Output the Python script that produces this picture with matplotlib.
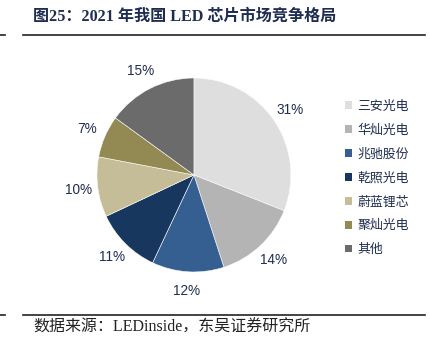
import matplotlib
matplotlib.use("Agg")
import matplotlib.pyplot as plt
from matplotlib.lines import Line2D
from matplotlib.patches import Patch

companies = ["三安光电", "华灿光电", "兆驰股份", "乾照光电", "蔚蓝锂芯", "聚灿光电", "其他"]
shares = [31, 14, 12, 11, 10, 7, 15]
colors = ["#DEDEDE", "#B4B4B4", "#365F91", "#17375E", "#C4BD97", "#938953", "#6B6B6B"]

title = "图25：2021 年我国 LED 芯片市场竞争格局"
source = "数据来源：LEDinside，东吴证券研究所"

navy = "#1F2D4F"
cjk_sans = ["Liberation Sans", "Noto Sans CJK SC"]
cjk_serif = ["Liberation Serif", "Noto Sans CJK SC"]

fig = plt.figure(figsize=(4.3, 3.5), dpi=100)

# pie
ax = fig.add_axes([0.451 - 0.2256, 0.5 - 0.2771, 0.4512, 0.5543])
wedges, texts, autotexts = ax.pie(
    shares, colors=colors, startangle=90, counterclock=False,
    autopct="%d%%", pctdistance=1.2,
    wedgeprops=dict(linewidth=0.4, edgecolor="white"),
    textprops=dict(color=navy, fontsize=9.8, family="Liberation Sans"))
ax.set_xlim(-1, 1)
ax.set_ylim(-1, 1)
ax.set_aspect("equal")

# legend
handles = [Patch(facecolor=c, edgecolor="none") for c in colors]
fig.legend(handles, companies, loc="upper left", bbox_to_anchor=(0.775, 0.745),
           frameon=False, prop=dict(family=cjk_sans, size=9.3),
           labelcolor=navy, handlelength=0.55, handleheight=0.55,
           handletextpad=0.4, labelspacing=0.9)

# title and rules
fig.text(0.077, 0.951, title, fontsize=11.6, fontweight="bold", color=navy,
         family=cjk_serif, va="center", ha="left")
for y in (0.9, 0.1):
    fig.add_artist(Line2D([0.053, 0.989], [y, y], color="#222222", lw=1.2))
    fig.add_artist(Line2D([0.0, 0.012], [y, y], color="#222222", lw=1.2))

fig.text(0.077, 0.063, source, fontsize=11.5, color="#222222",
         family=cjk_serif, va="center", ha="left")

fig.savefig("out.png", dpi=100)
